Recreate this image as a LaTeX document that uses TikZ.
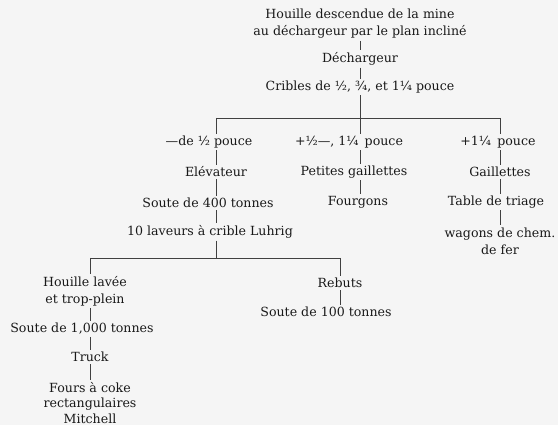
\documentclass[tikz,border=0pt]{standalone}
\usepackage{fontspec}
\setmainfont{DejaVu Serif}
\usetikzlibrary{positioning}
\tikzset{
  x=1pt, y=-1pt, % one unit is one pixel of the plate
  every node/.style={font=\fontsize{12.6}{17}\selectfont, text=black!90,
    inner sep=2pt}, % sets the text of every station
  stage/.style={align=center},
  link/.style={draw=black!75, line width=0.6pt},
}

\begin{document}
\begin{tikzpicture}
    \fill[black!4] (0,0) rectangle (558,425);
    \useasboundingbox (0,0) rectangle (558,425);

    \node[stage] (mine) at (360,24) {Houille descendue de la mine\\au déchargeur par le plan incliné};
    \node[stage] (dech) at (360,59) {Déchargeur};
    \node[stage] (cribles) at (360,87) {Cribles de ½, ¾, et 1¼ pouce};

    \coordinate (split1) at (360,118);
    \coordinate (split1l) at (216,118);
    \coordinate (split1r) at (500,118);

    % the three sizes
    \node[stage] (fine) at (209,142) {—de ½ pouce};
    \node[stage] (mid) at (349,142) {+½—, 1¼\, pouce};
    \node[stage] (big) at (498,142) {+1¼\, pouce};

    \node[stage] (elev) at (216,172) {Elévateur};
    \node[stage] (soute4) at (208,203) {Soute de 400 tonnes};
    \node[stage] (laveurs) at (210,232) {10 laveurs à crible Luhrig};

    \node[stage] (petites) at (354,172) {Petites gaillettes};
    \node[stage] (fourgons) at (358,202) {Fourgons};

    \node[stage] (gaill) at (500,172) {Gaillettes};
    \node[stage] (table) at (496,202) {Table de triage};
    \node[stage] (wagons) at (500,241) {wagons de chem.\\de fer};

    \coordinate (split2) at (216,258);
    \coordinate (split2l) at (90,258);
    \coordinate (split2r) at (340,258);

    % after the washers
    \node[stage] (lavee) at (85,291) {Houille lavée\\et trop-plein};
    \node[stage] (soute1k) at (82,329) {Soute de 1,000 tonnes};
    \node[stage] (truck) at (90,357) {Truck};
    \node[stage, font=\fontsize{12.6}{15.5}\selectfont] (fours) at (90,403) {Fours à coke\\rectangulaires\\Mitchell};

    \node[stage] (rebuts) at (340,283) {Rebuts};
    \node[stage] (soute1h) at (326,312) {Soute de 100 tonnes};

    \draw[link] (split1l) -- (split1r);
    \draw[link] (split2l) -- (split2r);
    \draw[link] (cribles.south) -- (split1);
    \draw[link] (laveurs.south -| split2) -- (split2);

    \foreach \top/\bot/\at in {mine/dech/split1, dech/cribles/split1,
      fine/elev/split1l, elev/soute4/split1l, soute4/laveurs/split1l,
      mid/petites/split1, petites/fourgons/split1,
      big/gaill/split1r, gaill/table/split1r, table/wagons/split1r,
      lavee/soute1k/split2l, soute1k/truck/split2l, truck/fours/split2l,
      rebuts/soute1h/split2r}
      \draw[link] (\top.south -| \at) -- (\bot.north -| \at);

    \foreach \at/\bot in {split1l/fine, split1/mid, split1r/big,
      split2l/lavee, split2r/rebuts}
      \draw[link] (\at) -- (\bot.north -| \at);
  \end{tikzpicture}
\end{document}
